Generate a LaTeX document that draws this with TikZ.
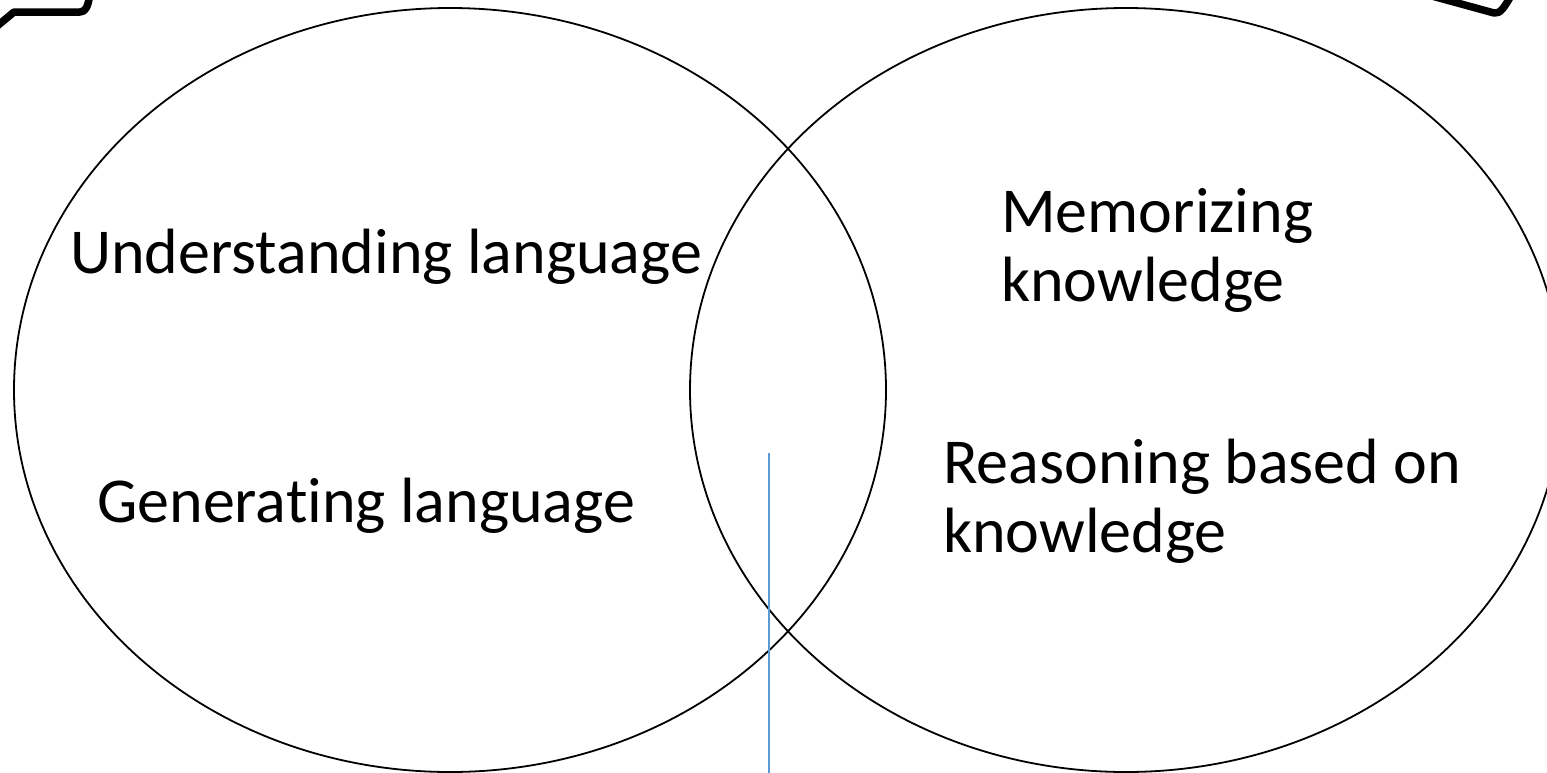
\documentclass[tikz,border=0pt]{standalone}
\usepackage{fontspec}
\setmainfont[RawFeature=-liga]{Carlito}
\begin{document}
\begin{tikzpicture}[x=1pt,y=-1pt,
  lbl/.style={anchor=base west,inner sep=0pt,font=\fontsize{64}{69}\selectfont,align=left},
  setring/.style={draw=black,line width=1.8pt},
  guide/.style={draw={rgb,255:red,91;green,155;blue,213},line width=2pt},
  frag/.style={draw=black,line width=7.5pt,line join=round,line cap=round}]
\useasboundingbox (0,0) rectangle (1547,772);
\clip (0,0) rectangle (1547,772);
% partial frame strokes at the corners
\draw[frag] (-10,32) -- (14,12) -- (80,12) .. controls (86,12) and (88,6) .. (90,-6);
\draw[frag] (1432,-4) -- (1494,13) .. controls (1500,14) and (1504,8) .. (1512,-6);
% the two sets
\draw[setring] (450,390) ellipse [x radius=436,y radius=382];
\draw[setring] (1126,390) ellipse [x radius=436,y radius=382];
% vertical guide line
\coordinate (gtop) at (769,453);
\coordinate (gbot) at (769,775);
\draw[guide] (gtop) -- (gbot);
% labels (base anchor sits on the last line)
\node[lbl] (ul) at (70,273) {Understanding language};
\node[lbl] (gl) at (97,522) {Generating language};
\node[lbl] (mk) at (1001,301) {Memorizing\\knowledge};
\node[lbl] (rk) at (943,552) {Reasoning based on\\knowledge};
\end{tikzpicture}
\end{document}
